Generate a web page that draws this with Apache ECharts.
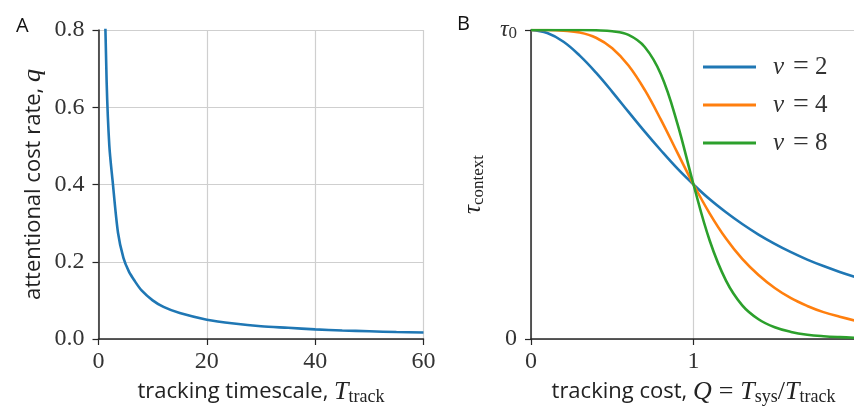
<!DOCTYPE html>
<html>
<head>
<meta charset="utf-8">
<script src="https://cdn.jsdelivr.net/npm/echarts@6/dist/echarts.min.js"></script>
<style>
html, body { margin: 0; padding: 0; background: #fff; }
#chart { width: 854px; height: 407px; }
</style>
</head>
<body>
<div id="chart"></div>
<script>
// panel A: attentional cost rate vs tracking timescale
const trackT = [1, 1.5, 2, 2.6, 3.6, 4.6, 5.6, 6.6, 8, 10, 12, 15, 20, 25, 30, 35, 40, 45, 50, 55, 60]
const costQ = [1.0, 0.667, 0.5, 0.41, 0.275, 0.21, 0.175, 0.152, 0.125, 0.1, 0.083, 0.067, 0.05, 0.04, 0.033, 0.029, 0.025, 0.022, 0.02, 0.018, 0.017]

// panel B: tau_context (in units of tau0) vs tracking cost Q
const costX = [0, 0.1, 0.2, 0.3, 0.4, 0.5, 0.6, 0.7, 0.8, 0.9, 1.0, 1.1, 1.2, 1.3, 1.4, 1.5, 1.6, 1.7, 1.8, 1.9, 2.0]
const tauNu2 = [1, 0.99, 0.962, 0.917, 0.862, 0.8, 0.735, 0.671, 0.61, 0.552, 0.5, 0.452, 0.41, 0.372, 0.338, 0.308, 0.281, 0.257, 0.236, 0.217, 0.2]
const tauNu4 = [1, 1, 0.998, 0.992, 0.975, 0.941, 0.885, 0.806, 0.709, 0.604, 0.5, 0.406, 0.325, 0.259, 0.207, 0.165, 0.132, 0.107, 0.087, 0.072, 0.059]
const tauNu8 = [1, 1, 1, 1, 0.999, 0.996, 0.984, 0.945, 0.856, 0.699, 0.5, 0.318, 0.189, 0.109, 0.064, 0.038, 0.023, 0.014, 0.009, 0.006, 0.004]
const nuNames = ['ν = 2', 'ν = 4', 'ν = 8']

const colors = ['#1f77b4', '#ff7f0e', '#2ca02c']
const serif = 'Liberation Serif'
const sans = 'Open Sans'
const axisColor = '#262626'
const gridColor = '#cfcfcf'

const pairs = (xs, ys) => xs.map((x, i) => [x, ys[i]])

const chart = echarts.init(document.getElementById('chart'))

const tickLabel = { fontFamily: serif, fontSize: 24, color: '#333' }
const nameStyle = {
  fontFamily: sans,
  fontSize: 22,
  color: '#222',
  rich: {
    it: { fontFamily: serif, fontStyle: 'italic', fontSize: 26, color: '#222' },
    rm: { fontFamily: serif, fontSize: 26, color: '#222' },
    eq: { fontFamily: serif, fontSize: 26, color: '#222', padding: [0, 7, 0, 7] },
    sub: { fontFamily: serif, fontSize: 18, color: '#222', padding: [10, 0, 0, 0] },
    tau: { fontFamily: serif, fontStyle: 'italic', fontSize: 25, color: '#222' },
    tsub: { fontFamily: serif, fontSize: 17, color: '#222', padding: [10, 0, 0, 0] }
  }
}

const option = {
  animation: false,
  title: [
    { text: 'A', left: 11, top: 11, textStyle: { fontFamily: sans, fontSize: 20, fontWeight: 'normal', color: '#111' } },
    { text: 'B', left: 452, top: 9, textStyle: { fontFamily: sans, fontSize: 20, fontWeight: 'normal', color: '#111' } }
  ],
  grid: [
    { left: 98.5, top: 30, width: 325, height: 309, containLabel: false, outerBoundsMode: 'none' },
    { left: 531, top: 30, width: 325, height: 309, containLabel: false, outerBoundsMode: 'none' }
  ],
  legend: {
    orient: 'vertical',
    left: 698,
    top: 48,
    icon: 'rect',
    itemWidth: 53,
    itemHeight: 3,
    itemGap: 10,
    data: nuNames,
    formatter: name => '{it|ν}{eq|=}{n|' + name.split('= ')[1] + '}',
    textStyle: {
      fontFamily: serif,
      fontSize: 25,
      lineHeight: 24,
      color: '#333',
      padding: [0, 0, 0, 12],
      rich: {
        it: { fontFamily: serif, fontStyle: 'italic', fontSize: 25, lineHeight: 24, color: '#333' },
        eq: { fontFamily: serif, fontSize: 28, lineHeight: 24, color: '#333', padding: [0, 6, 0, 9] },
        n: { fontFamily: serif, fontSize: 25, lineHeight: 24, color: '#333' }
      }
    }
  },
  xAxis: [
    {
      gridIndex: 0,
      type: 'value',
      min: 0,
      max: 60,
      interval: 20,
      name: 'tracking timescale, {it|T}{sub|track}',
      nameLocation: 'middle',
      nameGap: 28,
      nameTextStyle: nameStyle,
      axisLine: { lineStyle: { color: axisColor, width: 1.5 } },
      axisTick: { length: 6, lineStyle: { color: axisColor, width: 1.2 } },
      axisLabel: Object.assign({ margin: 11 }, tickLabel),
      splitLine: { show: true, lineStyle: { color: gridColor, width: 1.2 } }
    },
    {
      gridIndex: 1,
      type: 'value',
      min: 0,
      max: 2,
      interval: 1,
      name: 'tracking cost, {it|Q}{eq|=}{it|T}{sub|sys}{rm|/}{it|T}{sub|track}',
      nameLocation: 'middle',
      nameGap: 28,
      nameTextStyle: nameStyle,
      axisLine: { lineStyle: { color: axisColor, width: 1.5 } },
      axisTick: { length: 6, lineStyle: { color: axisColor, width: 1.2 } },
      axisLabel: Object.assign({ margin: 11, formatter: v => (v === 2 ? '' : String(v)) }, tickLabel),
      splitLine: { show: true, lineStyle: { color: gridColor, width: 1.2 } }
    }
  ],
  yAxis: [
    {
      gridIndex: 0,
      type: 'value',
      min: 0,
      max: 0.8,
      interval: 0.2,
      name: 'attentional cost rate, {it|q}',
      nameLocation: 'middle',
      nameGap: 52,
      nameTextStyle: nameStyle,
      axisLine: { show: true, lineStyle: { color: axisColor, width: 1.5 } },
      axisTick: { show: true, length: 6, lineStyle: { color: axisColor, width: 1.2 } },
      axisLabel: Object.assign({ margin: 14, formatter: v => v.toFixed(1) }, tickLabel),
      splitLine: { show: true, lineStyle: { color: gridColor, width: 1.2 } }
    },
    {
      gridIndex: 1,
      type: 'value',
      min: 0,
      max: 1,
      interval: 1,
      name: '{tau|τ}{tsub|context}',
      nameLocation: 'middle',
      nameGap: 44,
      nameTextStyle: nameStyle,
      axisLine: { show: true, lineStyle: { color: axisColor, width: 1.5 } },
      axisTick: { show: true, length: 6, lineStyle: { color: axisColor, width: 1.2 } },
      axisLabel: Object.assign({
        margin: 14,
        formatter: v => (v === 1 ? '{it|τ}{s|0}' : '0'),
        rich: {
          it: { fontFamily: serif, fontStyle: 'italic', fontSize: 24, color: '#333' },
          s: { fontFamily: serif, fontSize: 17, color: '#333', padding: [8, 0, 0, 0] }
        }
      }, tickLabel),
      splitLine: { show: true, lineStyle: { color: gridColor, width: 1.2 } }
    }
  ],
  series: [
    {
      type: 'line',
      xAxisIndex: 0,
      yAxisIndex: 0,
      data: pairs(trackT, costQ),
      showSymbol: false,
      smooth: 0.3,
      clip: true,
      lineStyle: { color: colors[0], width: 2.6 },
      itemStyle: { color: colors[0] }
    },
    {
      name: nuNames[0],
      type: 'line',
      xAxisIndex: 1,
      yAxisIndex: 1,
      data: pairs(costX, tauNu2),
      showSymbol: false,
      smooth: 0.4,
      lineStyle: { color: colors[0], width: 2.6 },
      itemStyle: { color: colors[0] }
    },
    {
      name: nuNames[1],
      type: 'line',
      xAxisIndex: 1,
      yAxisIndex: 1,
      data: pairs(costX, tauNu4),
      showSymbol: false,
      smooth: 0.4,
      lineStyle: { color: colors[1], width: 2.6 },
      itemStyle: { color: colors[1] }
    },
    {
      name: nuNames[2],
      type: 'line',
      xAxisIndex: 1,
      yAxisIndex: 1,
      data: pairs(costX, tauNu8),
      showSymbol: false,
      smooth: 0.4,
      lineStyle: { color: colors[2], width: 2.6 },
      itemStyle: { color: colors[2] }
    }
  ]
}

chart.setOption(option)
</script>
</body>
</html>
